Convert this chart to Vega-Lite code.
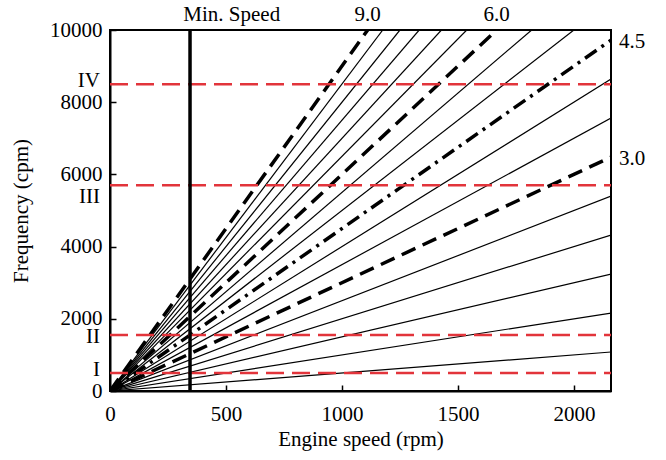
{
  "$schema": "https://vega.github.io/schema/vega-lite/v6.json",
  "width": 501,
  "height": 361,
  "autosize": {"type": "none"},
  "padding": {"left": 110, "top": 30, "right": 55, "bottom": 69},
  "background": "white",
  "config": {
    "font": "Liberation Serif",
    "view": {"stroke": "black", "strokeWidth": 2},
    "axis": {
      "grid": false,
      "domainColor": "black",
      "domainWidth": 2,
      "tickColor": "black",
      "tickWidth": 1.5,
      "tickSize": -6,
      "labelFlush": false,
      "labelFont": "Liberation Serif",
      "labelFontSize": 21,
      "labelColor": "black",
      "titleFont": "Liberation Serif",
      "titleFontSize": 21,
      "titleFontWeight": "normal",
      "titleColor": "black"
    }
  },
  "datasets": {
    "orders": [
      {"order": "0.5", "style": "solid", "rpm": 0, "freq": 0},
      {"order": "0.5", "style": "solid", "rpm": 2160, "freq": 1080},
      {"order": "1.0", "style": "solid", "rpm": 0, "freq": 0},
      {"order": "1.0", "style": "solid", "rpm": 2160, "freq": 2160},
      {"order": "1.5", "style": "solid", "rpm": 0, "freq": 0},
      {"order": "1.5", "style": "solid", "rpm": 2160, "freq": 3240},
      {"order": "2.0", "style": "solid", "rpm": 0, "freq": 0},
      {"order": "2.0", "style": "solid", "rpm": 2160, "freq": 4320},
      {"order": "2.5", "style": "solid", "rpm": 0, "freq": 0},
      {"order": "2.5", "style": "solid", "rpm": 2160, "freq": 5400},
      {"order": "3.0", "style": "dash", "rpm": 0, "freq": 0},
      {"order": "3.0", "style": "dash", "rpm": 2160, "freq": 6480},
      {"order": "3.5", "style": "solid", "rpm": 0, "freq": 0},
      {"order": "3.5", "style": "solid", "rpm": 2160, "freq": 7560},
      {"order": "4.0", "style": "solid", "rpm": 0, "freq": 0},
      {"order": "4.0", "style": "solid", "rpm": 2160, "freq": 8640},
      {"order": "4.5", "style": "dashdot", "rpm": 0, "freq": 0},
      {"order": "4.5", "style": "dashdot", "rpm": 2160, "freq": 9720},
      {"order": "5.0", "style": "solid", "rpm": 0, "freq": 0},
      {"order": "5.0", "style": "solid", "rpm": 2000, "freq": 10000},
      {"order": "5.5", "style": "solid", "rpm": 0, "freq": 0},
      {"order": "5.5", "style": "solid", "rpm": 1818, "freq": 10000},
      {"order": "6.0", "style": "dash", "rpm": 0, "freq": 0},
      {"order": "6.0", "style": "dash", "rpm": 1667, "freq": 10000},
      {"order": "6.5", "style": "solid", "rpm": 0, "freq": 0},
      {"order": "6.5", "style": "solid", "rpm": 1538, "freq": 10000},
      {"order": "7.0", "style": "solid", "rpm": 0, "freq": 0},
      {"order": "7.0", "style": "solid", "rpm": 1429, "freq": 10000},
      {"order": "7.5", "style": "solid", "rpm": 0, "freq": 0},
      {"order": "7.5", "style": "solid", "rpm": 1333, "freq": 10000},
      {"order": "8.0", "style": "solid", "rpm": 0, "freq": 0},
      {"order": "8.0", "style": "solid", "rpm": 1250, "freq": 10000},
      {"order": "8.5", "style": "solid", "rpm": 0, "freq": 0},
      {"order": "8.5", "style": "solid", "rpm": 1176, "freq": 10000},
      {"order": "9.0", "style": "dash", "rpm": 0, "freq": 0},
      {"order": "9.0", "style": "dash", "rpm": 1111, "freq": 10000}
    ],
    "zones": [
      {"zone": "I", "freq": 500},
      {"zone": "II", "freq": 1550},
      {"zone": "III", "freq": 5700},
      {"zone": "IV", "freq": 8500}
    ],
    "minspeed": [{"rpm": 345}],
    "toplabels": [
      {"label": "Min. Speed", "rpm": 525, "freq": 10000},
      {"label": "9.0", "rpm": 1111, "freq": 10000},
      {"label": "6.0", "rpm": 1667, "freq": 10000}
    ],
    "rightlabels": [
      {"label": "4.5", "rpm": 2160, "freq": 9720},
      {"label": "3.0", "rpm": 2160, "freq": 6480}
    ]
  },
  "encoding": {
    "x": {
      "field": "rpm",
      "type": "quantitative",
      "scale": {"domain": [0, 2160], "nice": false, "zero": true},
      "axis": {"title": "Engine speed (rpm)", "format": "d", "values": [0, 500, 1000, 1500, 2000], "labelPadding": 18, "titlePadding": 4}
    },
    "y": {
      "field": "freq",
      "type": "quantitative",
      "scale": {"domain": [0, 10000], "nice": false},
      "axis": {"title": "Frequency (cpm)", "format": "d", "values": [0, 2000, 4000, 6000, 8000, 10000], "labelPadding": 14, "titlePadding": 18}
    }
  },
  "layer": [
    {
      "data": {"name": "orders"},
      "transform": [{"filter": "datum.style === 'solid'"}],
      "mark": {"type": "line", "color": "black", "strokeWidth": 1.2, "clip": true},
      "encoding": {"detail": {"field": "order"}}
    },
    {
      "data": {"name": "orders"},
      "transform": [{"filter": "datum.style === 'dash'"}],
      "mark": {"type": "line", "color": "black", "strokeWidth": 3.5, "strokeDash": [15, 8], "clip": true},
      "encoding": {"detail": {"field": "order"}}
    },
    {
      "data": {"name": "orders"},
      "transform": [{"filter": "datum.style === 'dashdot'"}],
      "mark": {"type": "line", "color": "black", "strokeWidth": 3.5, "strokeDash": [14, 6, 3, 6], "clip": true},
      "encoding": {"detail": {"field": "order"}}
    },
    {
      "data": {"name": "zones"},
      "mark": {"type": "rule", "color": "#e2343b", "strokeWidth": 2.5, "strokeDash": [18, 8]},
      "encoding": {"x": {"value": 0}, "x2": {"value": 501}}
    },
    {
      "data": {"name": "minspeed"},
      "mark": {"type": "rule", "color": "black", "strokeWidth": 3.5},
      "encoding": {"y": {"value": 0}, "y2": {"value": 361}}
    },
    {
      "data": {"name": "zones"},
      "transform": [{"filter": "datum.zone === 'IV' || datum.zone === 'I'"}],
      "mark": {"type": "text", "fontSize": 21, "align": "right", "baseline": "middle", "dx": -10, "dy": -3, "color": "black"},
      "encoding": {"x": {"value": 0}, "text": {"field": "zone"}}
    },
    {
      "data": {"name": "zones"},
      "transform": [{"filter": "datum.zone === 'II'"}],
      "mark": {"type": "text", "fontSize": 21, "align": "right", "baseline": "middle", "dx": -10, "dy": 2, "color": "black"},
      "encoding": {"x": {"value": 0}, "text": {"field": "zone"}}
    },
    {
      "data": {"name": "zones"},
      "transform": [{"filter": "datum.zone === 'III'"}],
      "mark": {"type": "text", "fontSize": 21, "align": "right", "baseline": "middle", "dx": -10, "dy": 12, "color": "black"},
      "encoding": {"x": {"value": 0}, "text": {"field": "zone"}}
    },
    {
      "data": {"name": "toplabels"},
      "mark": {"type": "text", "fontSize": 21, "align": "center", "baseline": "middle", "dy": -15, "color": "black"},
      "encoding": {"text": {"field": "label"}}
    },
    {
      "data": {"name": "rightlabels"},
      "mark": {"type": "text", "fontSize": 21, "align": "left", "baseline": "middle", "dx": 8, "dy": 2, "color": "black"},
      "encoding": {"text": {"field": "label"}}
    }
  ]
}
